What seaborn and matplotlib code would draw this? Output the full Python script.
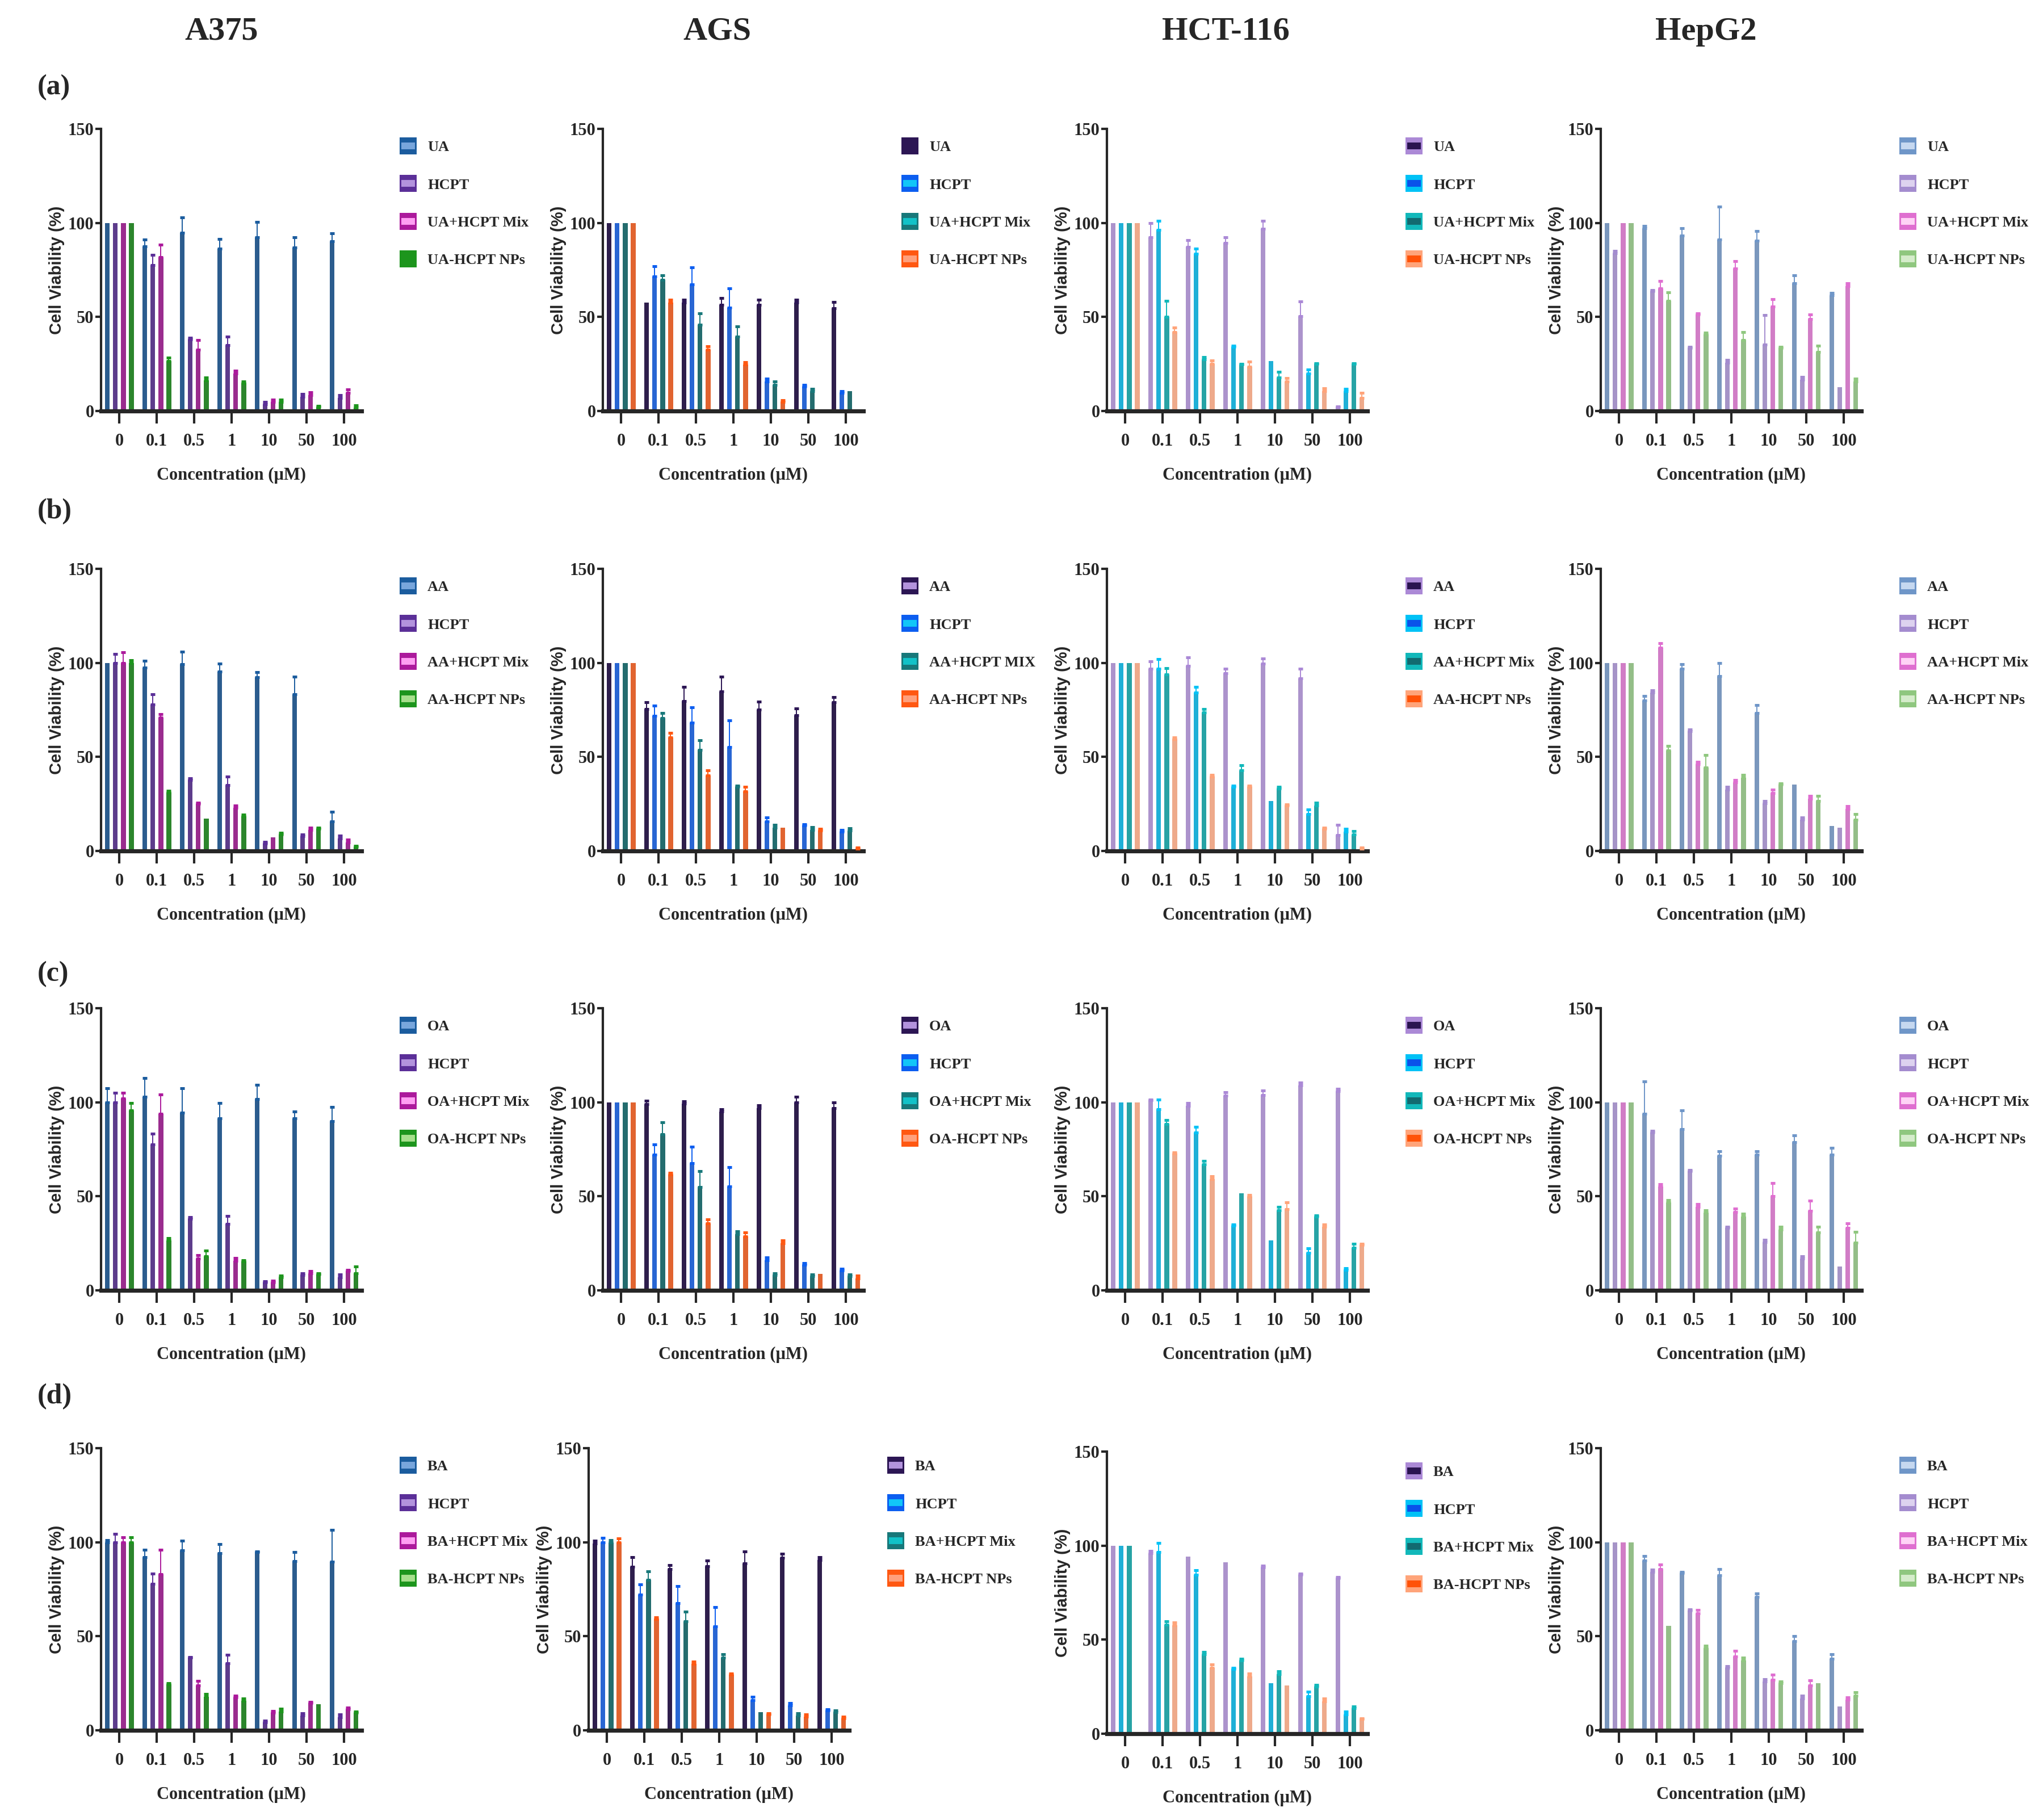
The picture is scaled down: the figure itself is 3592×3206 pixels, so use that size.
import numpy as np
import pandas as pd
import matplotlib
matplotlib.use("Agg")
import matplotlib.pyplot as plt
from matplotlib.lines import Line2D
from matplotlib.container import BarContainer
import seaborn as sns

# concentration axis shared by every panel
conc_labels = ["0", "0.1", "0.5", "1", "10", "50", "100"]
cell_lines = ["A375", "AGS", "HCT-116", "HepG2"]
drugs = ["UA", "AA", "OA", "BA"]
row_tags = ["(a)", "(b)", "(c)", "(d)"]

labels_ua = ["UA", "HCPT", "UA+HCPT Mix", "UA-HCPT NPs"]
labels_aa = ["AA", "HCPT", "AA+HCPT Mix", "AA-HCPT NPs"]
labels_aa_ags = ["AA", "HCPT", "AA+HCPT MIX", "AA-HCPT NPs"]
labels_oa = ["OA", "HCPT", "OA+HCPT Mix", "OA-HCPT NPs"]
labels_ba = ["BA", "HCPT", "BA+HCPT Mix", "BA-HCPT NPs"]

# ---- (a) UA ----
a375_ua = [[100, 87.6, 94.7, 86.4, 92.4, 86.8, 90.3],
           [100, 77.5, 38.0, 35.0, 3.7, 7.6, 6.8],
           [100, 81.7, 32.7, 19.8, 4.7, 8.5, 9.7],
           [100, 26.6, 16.4, 14.7, 4.7, 2.2, 1.7]]
a375_ua_err = [[0, 3.5, 8.3, 5.1, 8.1, 5.6, 4.1],
               [0, 5.5, 1.0, 4.5, 1.0, 1.4, 1.7],
               [0, 6.8, 4.9, 1.7, 1.3, 1.5, 1.8],
               [0, 1.9, 1.4, 1.1, 1.3, 0.5, 1.2]]
ags_ua = [[100, 57.6, 57.6, 56.4, 56.4, 57.6, 54.7],
          [100, 71.5, 67.3, 55.0, 15.8, 13.0, 9.8],
          [100, 69.8, 46.0, 39.5, 13.9, 10.5, 10.5],
          [100, 57.6, 32.7, 24.6, 4.7, 0.5, 0.5]]
ags_ua_err = [[0, 0, 1.7, 3.8, 2.9, 1.7, 3.3],
              [0, 5.5, 9.0, 10.3, 1.5, 0.9, 0.9],
              [0, 2.2, 6.0, 5.5, 1.9, 1.4, 0],
              [0, 1.7, 1.7, 1.4, 0.9, 0, 0]]
hct_ua = [[100, 92.4, 87.3, 89.3, 97.0, 50.3, 2.0],
          [100, 96.3, 83.6, 34.2, 26.6, 20.0, 10.7],
          [100, 50.0, 27.5, 24.6, 17.8, 25.0, 25.0],
          [100, 41.9, 25.0, 23.4, 15.6, 10.5, 6.8]]
hct_ua_err = [[0, 7.6, 3.4, 3.1, 4.0, 7.8, 0.5],
              [0, 4.9, 2.8, 0.5, 0, 2.0, 1.2],
              [0, 8.5, 1.3, 0.4, 2.9, 0.4, 0.4],
              [0, 2.5, 2.0, 2.9, 1.9, 1.7, 3.0]]
hep_ua = [[100, 97.1, 93.2, 91.0, 90.6, 68.0, 61.7],
          [84.0, 63.6, 33.4, 25.8, 35.4, 16.6, 12.7],
          [100, 65.3, 51.3, 75.9, 55.5, 49.0, 66.3],
          [100, 58.5, 40.7, 37.7, 33.4, 31.4, 15.8]]
hep_ua_err = [[0, 1.4, 4.1, 17.8, 5.0, 4.0, 1.2],
              [1.0, 0.8, 0.8, 1.3, 15.6, 1.6, 0],
              [0, 3.7, 0.5, 3.9, 3.9, 2.3, 1.7],
              [0, 4.5, 0.8, 4.2, 0.8, 3.3, 1.5]]

# ---- (b) AA ----
a375_aa = [[100, 97.4, 99.4, 95.4, 92.3, 83.3, 15.7],
           [100, 78.0, 37.8, 35.0, 3.9, 7.7, 6.6],
           [100, 70.8, 25.0, 22.8, 7.3, 11.3, 4.6],
           [100, 31.2, 17.3, 18.5, 8.8, 11.9, 2.0]]
a375_aa_err = [[0, 3.6, 6.6, 4.3, 2.9, 9.3, 5.1],
               [4.8, 5.4, 0.8, 4.4, 1.0, 1.1, 1.4],
               [5.5, 2.0, 0.8, 1.4, 0, 1.0, 1.3],
               [1.4, 0.8, 0, 0.8, 0.8, 0.4, 0.8]]
ags_aa = [[100, 75.6, 79.8, 84.9, 75.2, 72.1, 79.2],
          [100, 71.8, 68.2, 55.1, 15.7, 13.6, 10.3],
          [100, 70.5, 53.7, 34.0, 12.3, 11.3, 10.8],
          [100, 60.5, 40.1, 31.6, 12.3, 10.8, 1.2]]
ags_aa_err = [[0, 3.6, 7.4, 7.7, 4.3, 3.8, 2.6],
              [0, 5.4, 8.2, 14.3, 2.0, 0.6, 0.8],
              [0, 2.8, 5.3, 0.7, 1.6, 1.5, 1.2],
              [0, 2.3, 2.9, 2.4, 0, 1.1, 0.7]]
hct_aa = [[100, 97.0, 98.3, 94.5, 99.5, 91.8, 8.5],
          [100, 97.0, 84.2, 34.0, 26.5, 19.6, 10.3],
          [100, 93.9, 73.6, 43.0, 33.2, 24.2, 8.8],
          [100, 59.4, 39.6, 34.0, 24.2, 11.9, 1.2]]
hct_aa_err = [[0, 3.9, 4.5, 2.3, 2.8, 5.0, 5.4],
              [0, 5.0, 3.1, 0.7, 0, 2.3, 1.6],
              [0, 3.4, 1.9, 2.5, 0.8, 1.6, 1.7],
              [0, 1.1, 0.8, 0.7, 0.5, 0.4, 0.7]]
hep_aa = [[100, 80.1, 97.0, 93.1, 73.3, 35.2, 13.4],
          [100, 84.2, 63.7, 32.7, 25.5, 16.5, 12.3],
          [100, 107.9, 46.3, 36.6, 30.9, 27.8, 22.4],
          [100, 53.3, 44.3, 38.9, 35.2, 26.7, 16.5]]
hep_aa_err = [[0, 2.3, 2.4, 6.9, 4.2, 0, 0],
              [0, 1.2, 0.8, 1.3, 1.0, 1.2, 0],
              [0, 2.6, 1.1, 1.2, 1.8, 1.5, 1.5],
              [0, 2.6, 6.6, 1.5, 0.8, 2.6, 3.1]]

# ---- (c) OA ----
a375_oa = [[100, 103.0, 94.6, 91.5, 101.7, 91.5, 90.0],
           [100, 77.6, 38.0, 35.3, 4.2, 8.0, 6.8],
           [102.0, 93.8, 16.8, 15.7, 4.2, 9.2, 10.3],
           [95.8, 26.5, 18.0, 15.3, 6.8, 8.3, 9.0]]
a375_oa_err = [[7.4, 9.8, 12.8, 8.2, 7.7, 3.5, 7.4],
               [4.9, 5.6, 0.8, 4.3, 0.7, 1.2, 1.5],
               [3.0, 10.4, 2.0, 1.6, 1.0, 1.1, 0.7],
               [3.7, 1.2, 3.1, 0.7, 0.9, 0.9, 3.6]]
ags_oa = [[100, 98.9, 99.2, 95.0, 97.0, 100.0, 97.0],
          [100, 72.0, 67.6, 55.3, 16.0, 13.7, 10.6],
          [100, 83.0, 55.0, 30.0, 8.0, 7.5, 7.5],
          [100, 61.6, 35.7, 28.8, 25.0, 8.8, 6.2]]
ags_oa_err = [[0, 1.8, 1.2, 1.4, 1.4, 3.0, 3.0],
              [0, 5.6, 8.9, 10.2, 1.5, 0.8, 0.8],
              [0, 6.3, 8.5, 1.4, 1.2, 0.8, 0.8],
              [0, 0.8, 1.9, 1.9, 1.5, 0, 1.5]]
hct_oa = [[100, 101.0, 98.0, 103.5, 103.8, 108.9, 105.8],
          [100, 96.3, 84.0, 34.5, 26.5, 19.9, 10.8],
          [100, 88.4, 66.9, 51.6, 42.7, 39.1, 22.6],
          [100, 72.6, 59.2, 49.7, 43.1, 33.7, 24.2]]
hct_oa_err = [[0, 0.5, 1.5, 1.9, 2.5, 1.5, 1.2],
              [0, 5.2, 3.0, 0.5, 0, 2.3, 1.1],
              [0, 2.0, 2.0, 0, 1.8, 0.8, 2.1],
              [0, 0.8, 1.5, 1.1, 3.7, 1.3, 0.5]]
hep_oa = [[100, 93.8, 85.7, 71.5, 72.0, 78.9, 72.0],
          [100, 84.0, 63.3, 33.1, 25.7, 16.8, 12.6],
          [100, 55.3, 44.5, 41.7, 50.0, 42.2, 33.1],
          [100, 46.9, 41.4, 39.1, 32.2, 30.8, 25.3]]
hep_oa_err = [[0, 17.4, 10.1, 2.3, 1.8, 3.4, 3.8],
              [0, 0.7, 0.7, 0.8, 1.1, 1.2, 0],
              [0, 1.2, 1.3, 1.7, 6.9, 5.4, 2.6],
              [0, 1.2, 1.3, 1.6, 1.5, 2.9, 5.8]]

# ---- (d) BA ----
a375_ba = [[100, 92.1, 95.6, 94.1, 94.7, 89.9, 89.6],
           [100, 77.8, 38.5, 35.5, 4.1, 7.9, 6.8],
           [100, 83.1, 23.9, 17.4, 9.4, 14.4, 11.3],
           [100, 24.5, 17.8, 15.6, 10.1, 13.9, 9.4]]
a375_ba_err = [[1.2, 3.8, 5.2, 4.8, 0.5, 4.8, 16.9],
               [4.5, 5.6, 0.5, 4.5, 0.9, 1.2, 1.5],
               [2.7, 12.8, 2.5, 1.0, 0.9, 0.7, 0.8],
               [2.7, 0.7, 1.4, 1.3, 1.5, 0, 0.7]]
ags_ba = [[99.4, 86.9, 85.6, 87.2, 88.8, 91.7, 90.6],
          [100, 72.1, 67.7, 55.3, 15.9, 13.3, 10.6],
          [100, 80.0, 57.9, 38.5, 9.8, 7.9, 9.8],
          [100, 59.2, 35.2, 29.5, 8.3, 7.3, 6.3]]
ags_ba_err = [[1.4, 5.2, 2.3, 3.1, 6.4, 2.3, 1.5],
              [2.3, 5.4, 8.9, 10.3, 1.9, 1.1, 0.7],
              [1.2, 4.6, 5.1, 1.8, 0, 1.2, 0.8],
              [2.0, 0.9, 1.4, 0.7, 0.8, 1.0, 0.8]]
hct_ba = [[100, 96.0, 94.1, 91.1, 88.4, 84.4, 82.6],
          [100, 96.7, 84.4, 34.3, 26.8, 19.9, 10.4],
          [100, 57.9, 42.4, 38.9, 31.6, 25.1, 13.7],
          [np.nan, 57.6, 35.1, 30.6, 25.7, 17.2, 7.7]]
hct_ba_err = [[0, 1.3, 0, 0, 0.8, 0.8, 0.8],
              [0, 4.8, 2.5, 0.8, 0, 2.5, 1.5],
              [0, 1.9, 1.0, 1.0, 1.5, 0.8, 0.9],
              [0, 1.5, 1.7, 1.5, 0, 1.5, 0.5]]
hep_ba = [[100, 90.2, 83.5, 82.3, 71.0, 47.3, 38.1],
          [100, 84.3, 63.6, 33.2, 26.0, 16.9, 12.8],
          [100, 85.6, 62.3, 39.3, 26.9, 23.9, 16.3],
          [100, 55.6, 43.8, 37.0, 25.2, 24.9, 18.4]]
hep_ba_err = [[0, 2.4, 0.6, 3.3, 1.8, 2.9, 2.4],
              [0, 1.0, 0.8, 0.8, 1.2, 1.5, 0],
              [0, 2.5, 1.8, 3.0, 2.6, 2.8, 1.1],
              [0, 0, 1.1, 1.5, 0.8, 0, 1.7]]

# bar colours and the lighter inner colour of the legend swatch, per cell line
bar_colors = {
    "A375": ["#1b5c9e", "#5b2f98", "#ac1a9c", "#1d951d"],
    "AGS": ["#2c1654", "#0c5ef0", "#18787a", "#ff5812"],
    "HCT-116": ["#ab89d6", "#00c2f6", "#12b8ba", "#ffa47a"],
    "HepG2": ["#6f96c8", "#a48ccf", "#df6fd0", "#8fc77f"],
}
inner_colors = {
    "A375": ["#78a6dc", "#b393dd", "#ff9ff2", "#a6df8c"],
    "AGS": ["#b393dd", "#12c6f8", "#12c2c8", "#ffa07c"],
    "HCT-116": ["#2a1450", "#0a52ea", "#126a70", "#ff5208"],
    "HepG2": ["#c6d8f0", "#ddd2ef", "#ffd3f6", "#d5eccb"],
}

panels = {
    ("UA", "A375"): (a375_ua, a375_ua_err, labels_ua),
    ("UA", "AGS"): (ags_ua, ags_ua_err, labels_ua),
    ("UA", "HCT-116"): (hct_ua, hct_ua_err, labels_ua),
    ("UA", "HepG2"): (hep_ua, hep_ua_err, labels_ua),
    ("AA", "A375"): (a375_aa, a375_aa_err, labels_aa),
    ("AA", "AGS"): (ags_aa, ags_aa_err, labels_aa_ags),
    ("AA", "HCT-116"): (hct_aa, hct_aa_err, labels_aa),
    ("AA", "HepG2"): (hep_aa, hep_aa_err, labels_aa),
    ("OA", "A375"): (a375_oa, a375_oa_err, labels_oa),
    ("OA", "AGS"): (ags_oa, ags_oa_err, labels_oa),
    ("OA", "HCT-116"): (hct_oa, hct_oa_err, labels_oa),
    ("OA", "HepG2"): (hep_oa, hep_oa_err, labels_oa),
    ("BA", "A375"): (a375_ba, a375_ba_err, labels_ba),
    ("BA", "AGS"): (ags_ba, ags_ba_err, labels_ba),
    ("BA", "HCT-116"): (hct_ba, hct_ba_err, labels_ba),
    ("BA", "HepG2"): (hep_ba, hep_ba_err, labels_ba),
}

sns.set_style("ticks")
plt.rcParams["font.family"] = ["Liberation Serif", "DejaVu Serif"]
plt.rcParams["font.weight"] = "bold"

W, H = 3592, 3206
fig = plt.figure(figsize=(W / 200, H / 200), dpi=200)

# panel frame in pixels of the final picture
col_left = [178, 1062, 1950, 2820]
row_top = [227, 1002, 1776, 2551]
ax_w, ax_h = 459, 497
title_x = [390, 1263, 2159, 3005]
# a couple of panels sit slightly off the grid in the source figure
nudge = {("BA", "AGS"): (-25, 0), ("BA", "HCT-116"): (0, 6)}


def draw_panel(ax, values, errors, labels, colors, inners, leg_y=0.958):
    rows = []
    for s, lab in enumerate(labels):
        for c, cl in enumerate(conc_labels):
            rows.append({"conc": cl, "series": lab, "value": values[s][c]})
    df = pd.DataFrame(rows)
    sns.barplot(data=df, x="conc", y="value", hue="series", order=conc_labels,
                hue_order=labels, palette=dict(zip(labels, colors)),
                width=0.855, gap=0.4, errorbar=None, linewidth=0,
                legend=False, ax=ax)
    # upper-only error bars, same colour as the bar
    bar_conts = [cont for cont in ax.containers if isinstance(cont, BarContainer)]
    for s, cont in enumerate(bar_conts):
        for bar in cont.patches:
            xc = bar.get_x() + bar.get_width() / 2
            ci = int(round(xc))
            e = errors[s][ci]
            if e > 0:
                ax.errorbar(xc, bar.get_height(), yerr=[[0], [e]], fmt="none",
                            ecolor=colors[s], elinewidth=0.7, capsize=1.3,
                            capthick=1.8, zorder=3)
    ax.set_xlim(-0.49, 6.47)
    ax.set_ylim(0, 150)
    ax.set_yticks([0, 50, 100, 150])
    sns.despine(ax=ax)
    ax.spines["left"].set_linewidth(1.5)
    ax.spines["bottom"].set_linewidth(2.6)
    ax.tick_params(axis="x", length=8, width=1.5, pad=6, labelsize=11)
    ax.tick_params(axis="y", length=3.5, width=1.5, pad=1, labelsize=11)
    for t in ax.get_xticklabels() + ax.get_yticklabels():
        t.set_fontweight("bold")
    ax.set_xlabel("Concentration (\u00b5M)", fontsize=11, fontweight="bold")
    ax.xaxis.set_label_coords(0.5, -0.2)
    ax.set_ylabel("Cell Viability (%)", fontsize=10.5, fontweight="bold",
                  family=["Liberation Sans", "DejaVu Sans"])
    ax.yaxis.set_label_coords(-0.14, 0.5)

    handles = [(Line2D([], [], marker="s", ms=10.8, color=col, mew=0, ls=""),
                Line2D([], [], marker="_", ms=8.4, color=inn, mew=4.3, ls=""))
               for col, inn in zip(colors, inners)]
    ax.legend(handles, labels, loc="upper left", bbox_to_anchor=(1.135, leg_y),
              frameon=False, borderpad=0, borderaxespad=0,
              handlelength=1.55, handletextpad=0.5, labelspacing=1.62,
              prop={"weight": "bold", "size": 9.5})


for r, drug in enumerate(drugs):
    for c, cell in enumerate(cell_lines):
        values, errors, labels = panels[(drug, cell)]
        inners = list(inner_colors[cell])
        if drug == "UA" and cell == "A375":
            inners[3] = bar_colors[cell][3]
        if drug == "UA" and cell == "AGS":
            inners[0] = bar_colors[cell][0]
        dx, dy = nudge.get((drug, cell), (0, 0))
        ax = fig.add_axes([(col_left[c] + dx) / W,
                           1 - (row_top[r] + dy + ax_h) / H,
                           ax_w / W, ax_h / H])
        leg_y = 0.95 if (drug, cell) == ("BA", "HCT-116") else 0.958
        draw_panel(ax, values, errors, labels, bar_colors[cell], inners, leg_y)

for c, cell in enumerate(cell_lines):
    fig.text(title_x[c] / W, 1 - 56 / H, cell, ha="center", va="center",
             fontsize=21, fontweight="bold")

tag_y = [154, 901, 1716, 2460]
for r, tag in enumerate(row_tags):
    fig.text(66 / W, 1 - tag_y[r] / H, tag, ha="left", va="center",
             fontsize=18, fontweight="bold")

fig.savefig("out.png", dpi=200, facecolor="white")
